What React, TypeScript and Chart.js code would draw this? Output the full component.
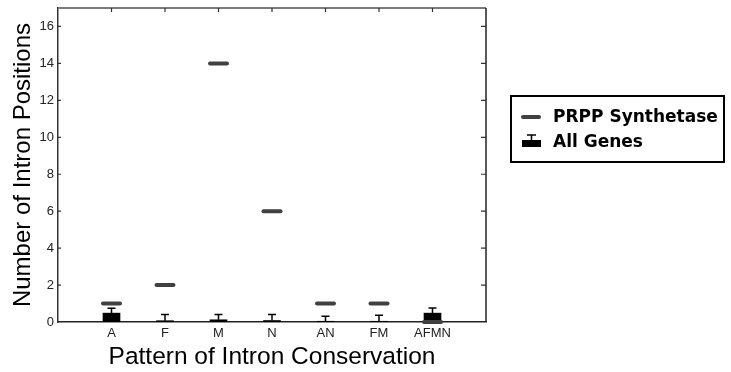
import React, { useEffect, useRef } from "react";
import { Chart, registerables } from "chart.js";

Chart.register(...registerables);

const categories = ["A", "F", "M", "N", "AN", "FM", "AFMN"];
const prppSynthetase = [1, 2, 14, 6, 1, 1, 0];
const allGenesMean = [0.48, 0.07, 0.12, 0.08, 0.04, 0.04, 0.48];
const allGenesUpper = [0.74, 0.41, 0.41, 0.41, 0.31, 0.36, 0.76];
const yTickValues = [0, 2, 4, 6, 8, 10, 12, 14, 16];
const seriesLabels = ["PRPP Synthetase", "All Genes"];
const xTitle = "Pattern of Intron Conservation";
const yTitle = "Number of Intron Positions";

const MARK_GRAY = "#404040";
const FONT = "'Liberation Sans', Arial, sans-serif";

const errorBarPlugin = {
  id: "errorBars",
  afterDatasetDraw(chart: any, args: any) {
    if (args.index !== 0) return;
    const ctx = chart.ctx;
    const yScale = chart.scales.y;
    const meta = chart.getDatasetMeta(0);
    ctx.save();
    ctx.strokeStyle = "#000";
    ctx.lineWidth = 1.5;
    meta.data.forEach((el: any, i: number) => {
      const yTop = el.y;
      const yErr = yScale.getPixelForValue(allGenesUpper[i]);
      ctx.beginPath();
      ctx.moveTo(el.x, yTop);
      ctx.lineTo(el.x, yErr);
      ctx.moveTo(el.x - 4, yErr);
      ctx.lineTo(el.x + 4, yErr);
      ctx.stroke();
    });
    ctx.restore();
  },
};

const roundCapPlugin = {
  id: "roundCap",
  beforeDatasetDraw(chart: any, args: any) {
    if (args.index === 1) chart.ctx.lineCap = "round";
  },
  afterDatasetDraw(chart: any, args: any) {
    if (args.index === 1) chart.ctx.lineCap = "butt";
  },
};

const framePlugin = {
  id: "frame",
  afterDraw(chart: any) {
    const ctx = chart.ctx;
    const { left, right, top, bottom } = chart.chartArea;
    const xs = chart.scales.x;
    const ys = chart.scales.y;
    ctx.save();
    ctx.strokeStyle = "#7a7a7a";
    ctx.lineWidth = 2;
    ctx.beginPath();
    ctx.moveTo(left, top);
    ctx.lineTo(right, top);
    ctx.stroke();
    ctx.strokeStyle = "#222";
    ctx.lineWidth = 1.5;
    ctx.beginPath();
    ctx.moveTo(right, top);
    ctx.lineTo(right, bottom);
    ctx.stroke();
    ctx.strokeStyle = "#333";
    ctx.lineWidth = 1.2;
    categories.forEach((_, i) => {
      const x = xs.getPixelForValue(i + 1);
      ctx.beginPath();
      ctx.moveTo(x, top);
      ctx.lineTo(x, top + 4);
      ctx.stroke();
    });
    yTickValues.forEach((v) => {
      if (v === 0) return;
      const y = ys.getPixelForValue(v);
      ctx.beginPath();
      ctx.moveTo(right, y);
      ctx.lineTo(right - 5, y);
      ctx.moveTo(left, y);
      ctx.lineTo(left + 3, y);
      ctx.stroke();
    });
    ctx.restore();
  },
};

const legendPlugin = {
  id: "customLegend",
  afterDraw(chart: any) {
    const ctx = chart.ctx;
    ctx.save();
    ctx.strokeStyle = "#000";
    ctx.lineWidth = 2;
    ctx.strokeRect(511, 96, 213, 66);
    ctx.strokeStyle = MARK_GRAY;
    ctx.lineWidth = 4;
    ctx.lineCap = "round";
    ctx.beginPath();
    ctx.moveTo(523, 117);
    ctx.lineTo(539, 117);
    ctx.stroke();
    ctx.lineCap = "butt";
    ctx.fillStyle = "#000";
    ctx.fillRect(522, 140, 19, 7);
    ctx.strokeStyle = "#000";
    ctx.lineWidth = 1.5;
    ctx.beginPath();
    ctx.moveTo(531.5, 140);
    ctx.lineTo(531.5, 135);
    ctx.moveTo(527, 135);
    ctx.lineTo(536, 135);
    ctx.stroke();
    ctx.fillStyle = "#000";
    ctx.font = "bold 17px 'DejaVu Sans', sans-serif";
    ctx.textBaseline = "middle";
    ctx.textAlign = "left";
    ctx.fillText(seriesLabels[0], 553, 118);
    ctx.fillText(seriesLabels[1], 553, 143);
    ctx.restore();
  },
};

const zeroPadding = () => ({ left: 0, top: 0, right: 0, bottom: 0 });

export default function App() {
  const canvasRef = useRef<HTMLCanvasElement | null>(null);

  useEffect(() => {
    if (!canvasRef.current) return;
    const chart = new Chart(canvasRef.current, {
      type: "bar",
      data: {
        datasets: [
          {
            type: "bar",
            label: seriesLabels[1],
            data: allGenesMean.map((v, i) => ({ x: i + 1, y: v })),
            backgroundColor: "#000",
            borderWidth: 0,
            barThickness: 17,
            grouped: false,
            order: 1,
          } as any,
          {
            type: "scatter",
            label: seriesLabels[0],
            data: prppSynthetase.map((v, i) => ({ x: i + 1, y: v })),
            pointStyle: "line",
            pointRadius: 8.5,
            pointHoverRadius: 8.5,
            pointBorderWidth: 4,
            borderColor: MARK_GRAY,
            backgroundColor: MARK_GRAY,
            showLine: false,
            clip: false,
            order: 0,
          } as any,
        ],
      },
      options: {
        animation: false,
        responsive: false,
        maintainAspectRatio: false,
        devicePixelRatio: 1,
        layout: { autoPadding: false, padding: { left: 0, top: 8, right: 245, bottom: 0 } },
        plugins: {
          legend: { display: false },
          tooltip: { enabled: false },
        },
        scales: {
          x: {
            type: "linear",
            min: 0,
            max: 8,
            offset: false,
            grid: { display: false, drawTicks: false },
            border: { display: true, color: "#222", width: 1.5 },
            afterBuildTicks: (scale: any) => {
              scale.ticks = categories.map((_, i) => ({ value: i + 1 }));
            },
            afterFit: (scale: any) => {
              scale.height = 50;
              scale.paddingLeft = 0;
              scale.paddingRight = 0;
              scale.getPadding = zeroPadding;
            },
            ticks: {
              autoSkip: false,
              maxRotation: 0,
              padding: 4,
              color: "#222",
              font: { family: FONT, size: 13 },
              callback: (value: any) => categories[Number(value) - 1] ?? "",
            },
            title: {
              display: true,
              text: xTitle,
              color: "#000",
              font: { family: FONT, size: 24.5 },
              padding: { top: 0, bottom: 0 },
            },
          },
          y: {
            type: "linear",
            min: 0,
            max: 17,
            grid: { display: false, drawTicks: false },
            border: { display: true, color: "#333", width: 1.5 },
            afterBuildTicks: (scale: any) => {
              scale.ticks = yTickValues.map((v) => ({ value: v }));
            },
            afterFit: (scale: any) => {
              scale.width = 58;
              scale.paddingTop = 0;
              scale.paddingBottom = 0;
              scale.getPadding = zeroPadding;
            },
            ticks: {
              padding: 4,
              color: "#222",
              font: { family: FONT, size: 13 },
            },
            title: {
              display: true,
              text: yTitle,
              color: "#000",
              font: { family: FONT, size: 24 },
              padding: { top: 9, bottom: 0 },
            },
          },
        },
      } as any,
      plugins: [errorBarPlugin, roundCapPlugin, framePlugin, legendPlugin],
    });
    return () => chart.destroy();
  }, []);

  return (
    <div style={{ position: "absolute", left: 0, top: 0, width: 731, height: 372, background: "#fff" }}>
      <canvas ref={canvasRef} width={731} height={372} style={{ display: "block" }} />
    </div>
  );
}
